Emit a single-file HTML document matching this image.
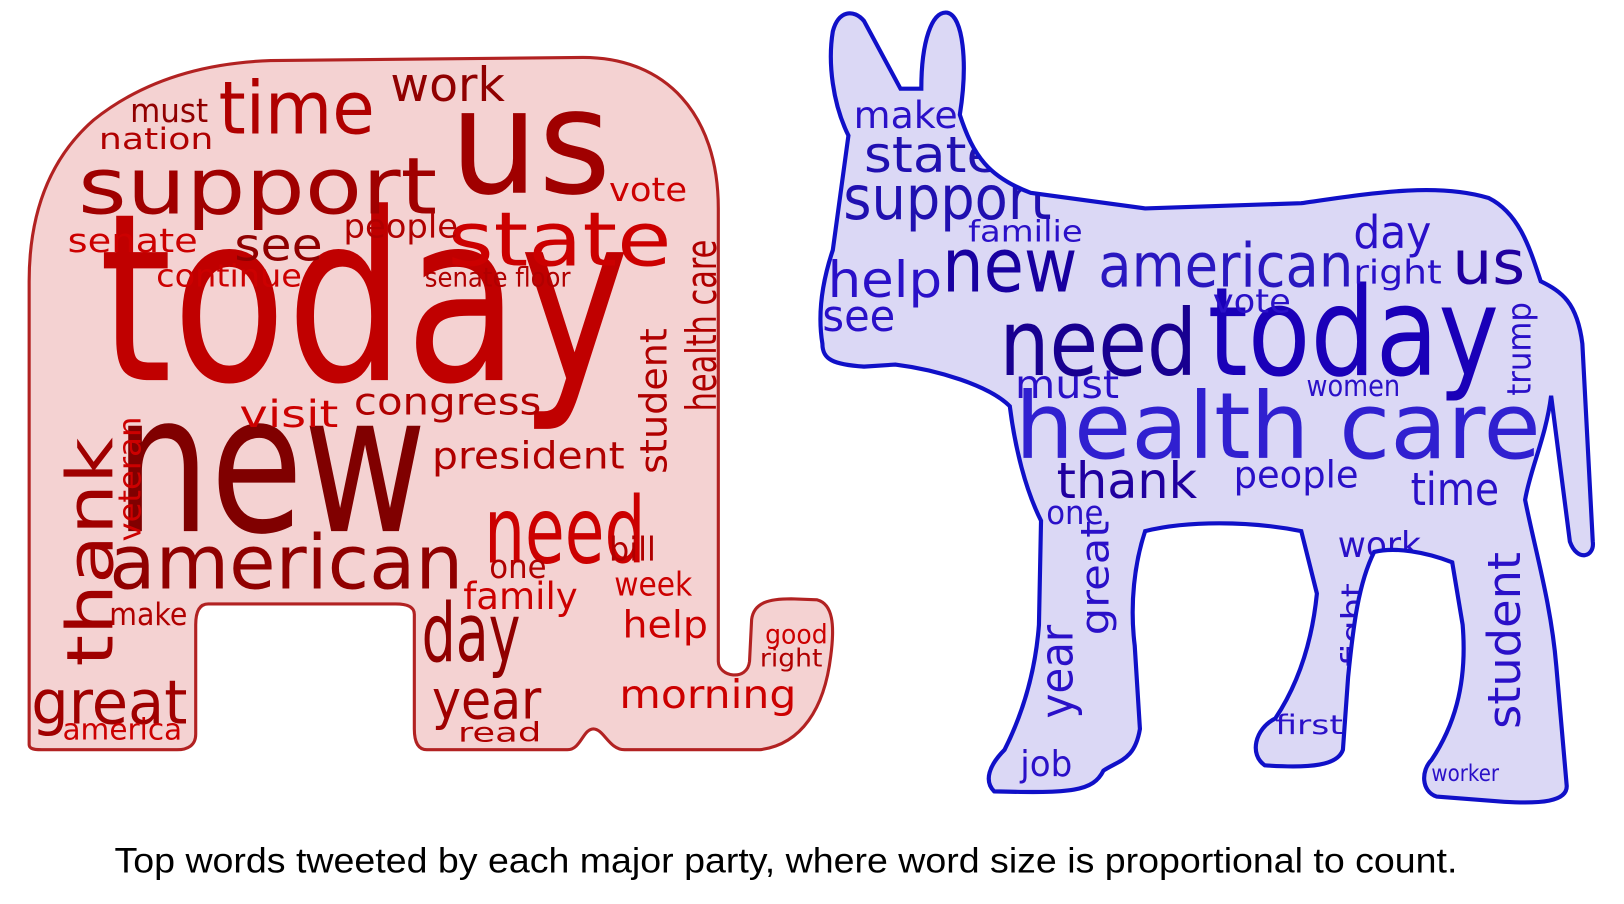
<!DOCTYPE html>
<html><head><meta charset="utf-8"><style>
html,body{margin:0;padding:0;background:#fff;}
svg{display:block;}
text{font-family:"DejaVu Sans","Liberation Sans",sans-serif;}
</style></head><body>
<svg width="1624" height="904" viewBox="0 0 1560 868" xmlns="http://www.w3.org/2000/svg">
<defs>
<clipPath id="ec"><path id="ep" d="M 28 715 L 28 270 C 28 200 50 150 90 115 C 140 75 200 60 260 58 L 560 55 C 640 55 690 110 690 200 L 690 635 C 690 650 718 655 720 635 L 722 595 C 724 578 740 575 760 575 L 785 576 C 800 580 802 600 798 630 C 792 680 770 715 730 720 L 600 720 C 585 720 580 700 570 700 C 560 700 558 720 545 720 L 410 720 C 400 720 398 710 398 700 L 398 590 C 398 582 390 580 380 580 L 200 580 C 190 580 188 590 188 600 L 188 705 C 188 716 180 720 170 720 L 40 720 C 30 720 28 718 28 715 Z"/></clipPath>
<clipPath id="dc"><path id="dp" d="M 790 330 C 785 300 790 270 800 240 L 815 130 C 800 100 795 60 800 30 C 805 10 820 8 830 20 L 865 85 L 885 85 C 885 40 895 10 910 12 C 925 15 930 60 922 110 C 935 150 950 170 990 185 L 1100 200 L 1250 195 C 1320 185 1380 175 1430 190 C 1460 205 1470 240 1480 270 C 1500 280 1515 290 1520 330 L 1530 520 C 1532 535 1515 540 1508 520 L 1490 380 C 1485 420 1470 450 1465 480 C 1475 530 1490 580 1495 640 L 1505 755 C 1505 770 1480 772 1445 770 L 1380 765 C 1365 760 1365 740 1375 730 C 1395 700 1410 660 1405 600 L 1395 540 C 1370 530 1340 525 1320 530 C 1305 560 1300 600 1295 650 L 1290 720 C 1285 735 1260 738 1215 735 C 1200 725 1205 700 1225 690 C 1245 660 1260 620 1265 570 L 1250 510 C 1200 500 1140 500 1100 510 C 1090 540 1085 580 1090 620 L 1095 700 C 1090 730 1075 730 1060 740 C 1050 760 1030 762 955 760 C 945 750 950 735 965 720 C 985 680 995 640 998 600 L 1000 500 C 985 470 975 430 970 390 C 950 370 900 355 860 350 L 830 352 C 800 350 790 345 790 330 Z"/></clipPath>
</defs>

<g>
<use href="#ep" fill="#f4d2d2"/>
<g clip-path="url(#ec)" fill="#b00000">
<text x="95" y="365" font-size="225" textLength="510" lengthAdjust="spacingAndGlyphs" fill="#c00000">today</text>
<text x="110" y="510" font-size="185" textLength="300" lengthAdjust="spacingAndGlyphs" fill="#800000">new</text>
<text x="432" y="185" font-size="140" textLength="155" lengthAdjust="spacingAndGlyphs" fill="#a00000">us</text>
<text x="75" y="205" font-size="75" textLength="345" lengthAdjust="spacingAndGlyphs" fill="#a00000">support</text>
<text x="210" y="128" font-size="70" textLength="150" lengthAdjust="spacingAndGlyphs" fill="#b00000">time</text>
<text x="375" y="97" font-size="45" textLength="110" lengthAdjust="spacingAndGlyphs" fill="#900000">work</text>
<text x="430" y="255" font-size="72" textLength="215" lengthAdjust="spacingAndGlyphs" fill="#cc0000">state</text>
<text x="105" y="565" font-size="72" textLength="340" lengthAdjust="spacingAndGlyphs" fill="#900000">american</text>
<text transform="translate(108,640) rotate(-90)" font-size="62" textLength="220" lengthAdjust="spacingAndGlyphs" fill="#a00000">thank</text>
<text x="465" y="540" font-size="88" textLength="155" lengthAdjust="spacingAndGlyphs" fill="#cc0000">need</text>
<text x="405" y="635" font-size="78" textLength="95" lengthAdjust="spacingAndGlyphs" fill="#900000">day</text>
<text x="415" y="690" font-size="52" textLength="105" lengthAdjust="spacingAndGlyphs" fill="#a00000">year</text>
<text x="30" y="695" font-size="58" textLength="150" lengthAdjust="spacingAndGlyphs" fill="#a00000">great</text>
<text x="415" y="450" font-size="36" textLength="185" lengthAdjust="spacingAndGlyphs">president</text>
<text x="340" y="398" font-size="36" textLength="180" lengthAdjust="spacingAndGlyphs">congress</text>
<text x="225" y="250" font-size="44" textLength="85" lengthAdjust="spacingAndGlyphs" fill="#900000">see</text>
<text x="330" y="228" font-size="32" textLength="110" lengthAdjust="spacingAndGlyphs">people</text>
<text x="65" y="242" font-size="32" textLength="125" lengthAdjust="spacingAndGlyphs" fill="#cc0000">senate</text>
<text x="125" y="117" font-size="32" textLength="75" lengthAdjust="spacingAndGlyphs" fill="#900000">must</text>
<text x="95" y="143" font-size="28" textLength="110" lengthAdjust="spacingAndGlyphs">nation</text>
<text x="150" y="275" font-size="30" textLength="140" lengthAdjust="spacingAndGlyphs" fill="#cc0000">continue</text>
<text x="230" y="410" font-size="36" textLength="95" lengthAdjust="spacingAndGlyphs" fill="#cc0000">visit</text>
<text x="445" y="585" font-size="36" textLength="110" lengthAdjust="spacingAndGlyphs" fill="#cc0000">family</text>
<text x="598" y="612" font-size="36" textLength="82" lengthAdjust="spacingAndGlyphs" fill="#cc0000">help</text>
<text x="595" y="680" font-size="38" textLength="170" lengthAdjust="spacingAndGlyphs" fill="#cc0000">morning</text>
<text x="590" y="572" font-size="32" textLength="75" lengthAdjust="spacingAndGlyphs" fill="#cc0000">week</text>
<text x="585" y="193" font-size="32" textLength="75" lengthAdjust="spacingAndGlyphs" fill="#cc0000">vote</text>
<text transform="translate(688,395) rotate(-90)" font-size="40" textLength="165" lengthAdjust="spacingAndGlyphs">health care</text>
<text transform="translate(640,455) rotate(-90)" font-size="36" textLength="140" lengthAdjust="spacingAndGlyphs">student</text>
<text transform="translate(135,520) rotate(-90)" font-size="30" textLength="120" lengthAdjust="spacingAndGlyphs" fill="#cc0000">veteran</text>
<text x="470" y="555" font-size="32" textLength="55" lengthAdjust="spacingAndGlyphs">one</text>
<text x="105" y="600" font-size="30" textLength="75" lengthAdjust="spacingAndGlyphs">make</text>
<text x="60" y="710" font-size="28" textLength="115" lengthAdjust="spacingAndGlyphs" fill="#cc0000">america</text>
<text x="585" y="538" font-size="32" textLength="45" lengthAdjust="spacingAndGlyphs">bill</text>
<text x="735" y="618" font-size="26" textLength="60" lengthAdjust="spacingAndGlyphs" fill="#cc0000">good</text>
<text x="730" y="640" font-size="24" textLength="60" lengthAdjust="spacingAndGlyphs">right</text>
<text x="408" y="275" font-size="26" textLength="140" lengthAdjust="spacingAndGlyphs">senate floor</text>
<text x="440" y="712" font-size="26" textLength="80" lengthAdjust="spacingAndGlyphs">read</text>
</g>
<use href="#ep" fill="none" stroke="#b22222" stroke-width="3"/>
</g>

<g>
<use href="#dp" fill="#dbd8f5"/>
<g clip-path="url(#dc)" fill="#2a10c8">
<text x="1160" y="360" font-size="118" textLength="280" lengthAdjust="spacingAndGlyphs" fill="#1a00b8">today</text>
<text x="960" y="360" font-size="88" textLength="190" lengthAdjust="spacingAndGlyphs" fill="#180090">need</text>
<text x="975" y="440" font-size="88" textLength="505" lengthAdjust="spacingAndGlyphs" fill="#3020d0">health care</text>
<text x="1055" y="275" font-size="58" textLength="245" lengthAdjust="spacingAndGlyphs" fill="#2a18c0">american</text>
<text x="905" y="280" font-size="72" textLength="130" lengthAdjust="spacingAndGlyphs" fill="#1800a0">new</text>
<text x="810" y="210" font-size="58" textLength="200" lengthAdjust="spacingAndGlyphs" fill="#2010b0">support</text>
<text x="830" y="165" font-size="48" textLength="130" lengthAdjust="spacingAndGlyphs" fill="#2010b0">state</text>
<text x="795" y="285" font-size="48" textLength="110" lengthAdjust="spacingAndGlyphs">help</text>
<text x="820" y="123" font-size="36" textLength="100" lengthAdjust="spacingAndGlyphs">make</text>
<text x="790" y="318" font-size="42" textLength="70" lengthAdjust="spacingAndGlyphs">see</text>
<text x="1015" y="478" font-size="48" textLength="135" lengthAdjust="spacingAndGlyphs" fill="#2000a0">thank</text>
<text x="975" y="382" font-size="38" textLength="100" lengthAdjust="spacingAndGlyphs">must</text>
<text x="1185" y="468" font-size="36" textLength="120" lengthAdjust="spacingAndGlyphs">people</text>
<text x="1355" y="485" font-size="44" textLength="85" lengthAdjust="spacingAndGlyphs">time</text>
<text x="1395" y="272" font-size="58" textLength="70" lengthAdjust="spacingAndGlyphs" fill="#2000a0">us</text>
<text x="1300" y="238" font-size="44" textLength="75" lengthAdjust="spacingAndGlyphs">day</text>
<text x="1285" y="535" font-size="34" textLength="80" lengthAdjust="spacingAndGlyphs">work</text>
<text x="1255" y="380" font-size="28" textLength="90" lengthAdjust="spacingAndGlyphs">women</text>
<text transform="translate(1470,380) rotate(-90)" font-size="32" textLength="90" lengthAdjust="spacingAndGlyphs">trump</text>
<text transform="translate(1460,700) rotate(-90)" font-size="44" textLength="170" lengthAdjust="spacingAndGlyphs">student</text>
<text transform="translate(1030,690) rotate(-90)" font-size="44" textLength="90" lengthAdjust="spacingAndGlyphs">year</text>
<text transform="translate(1065,610) rotate(-90)" font-size="38" textLength="110" lengthAdjust="spacingAndGlyphs">great</text>
<text x="980" y="745" font-size="34" textLength="50" lengthAdjust="spacingAndGlyphs">job</text>
<text x="1005" y="503" font-size="32" textLength="55" lengthAdjust="spacingAndGlyphs">one</text>
<text x="930" y="232" font-size="28" textLength="110" lengthAdjust="spacingAndGlyphs">familie</text>
<text x="1300" y="272" font-size="32" textLength="85" lengthAdjust="spacingAndGlyphs">right</text>
<text x="1165" y="300" font-size="32" textLength="75" lengthAdjust="spacingAndGlyphs">vote</text>
<text x="1225" y="705" font-size="26" textLength="65" lengthAdjust="spacingAndGlyphs">first</text>
<text x="1375" y="750" font-size="22" textLength="65" lengthAdjust="spacingAndGlyphs">worker</text>
<text transform="translate(1310,640) rotate(-90)" font-size="30" textLength="80" lengthAdjust="spacingAndGlyphs">fight</text>
</g>
<use href="#dp" fill="none" stroke="#1010c8" stroke-width="4"/>
</g>

<text x="110" y="838" font-size="34" textLength="1290" lengthAdjust="spacingAndGlyphs" fill="#000" style="font-family:'Liberation Sans',sans-serif">Top words tweeted by each major party, where word size is proportional to count.</text>
</svg>
</body></html>
